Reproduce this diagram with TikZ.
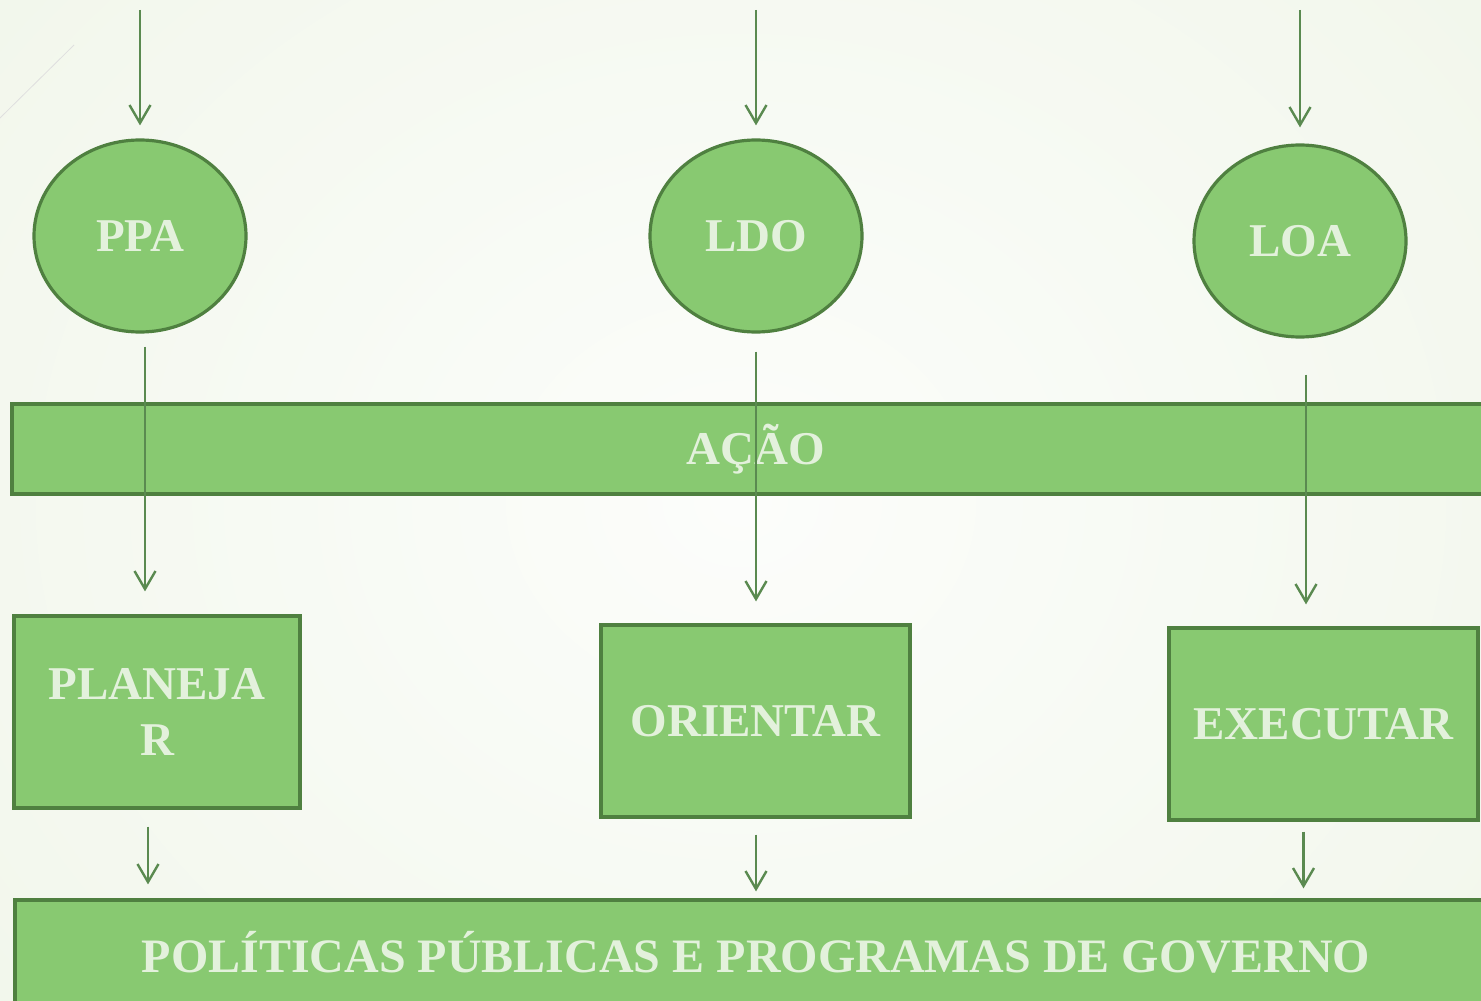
\documentclass[tikz,border=0pt]{standalone}
\usepackage{fontspec}
\setmainfont{Liberation Serif}
\usetikzlibrary{arrows.meta, shapes.geometric}

\definecolor{bgout}{HTML}{F2F7EC}
\definecolor{bgin}{HTML}{FCFDFB}
\definecolor{boxfill}{HTML}{88C971}
\definecolor{boxline}{HTML}{4F8040}
\definecolor{arrline}{HTML}{5A8A50}
\definecolor{boxtext}{HTML}{E3F1DC}

\tikzset{
  lawnode/.style={ellipse, draw=boxline, line width=1.6pt, fill=boxfill,
    minimum width=106pt, minimum height=96pt, inner sep=0pt,
    text=boxtext, font=\fontsize{23.5}{28}\selectfont\bfseries},
  stepbox/.style={rectangle, draw=boxline, line width=1.6pt, fill=boxfill,
    minimum height=96pt, inner sep=0pt, align=center,
    text=boxtext, font=\fontsize{23.5}{28}\selectfont\bfseries},
  bar/.style={stepbox, minimum height=45pt},
  arr/.style={draw=arrline, line width=1.2pt,
    -{Straight Barb[length=9pt, width=10.5pt, line width=1.2pt]}},
}

\begin{document}
\begin{tikzpicture}[x=0.5pt, y=-0.5pt]
      % Background:
      \useasboundingbox (0,0) rectangle (1481,1000);
      \clip (0,0) rectangle (1481,1000);
      \shade[inner color=bgin, outer color=bgout] (-200,-300) rectangle (1681,1300);
      \draw[gray!25, line width=0.4pt] (0,118) -- (74,45);

      % Laws:
      \node[lawnode] (ppa) at (140,236) {PPA};
      \node[lawnode] (ldo) at (756,236) {LDO};
      \node[lawnode] (loa) at (1300,241) {LOA};
      \coordinate (ppain) at (140,10);
      \coordinate (ldoin) at (756,10);
      \coordinate (loain) at (1300,10);

      % Bars and steps:
      \node[bar, minimum width=744pt] (acao) at (756,449) {AÇÃO};
      \node[stepbox, minimum width=143pt] (planejar) at (157,712) {PLANEJA\\R};
      \node[stepbox, minimum width=154.5pt] (orientar) at (755.5,721) {ORIENTAR};
      \node[stepbox, minimum width=154.5pt] (executar) at (1323.5,724) {EXECUTAR};
      \node[bar, minimum width=741pt, minimum height=52pt,
        font=\fontsize{24}{28}\selectfont\bfseries] (politicas) at (756,952) {POLÍTICAS PÚBLICAS E PROGRAMAS DE GOVERNO};

      % Arrows:
      \draw[arr, shorten >=6.5pt] (ppain) -- (ppa.north);
      \draw[arr, shorten >=6.5pt] (ldoin) -- (ldo.north);
      \draw[arr, shorten >=8pt] (loain) -- (loa.north);

      \draw[arr, shorten <=6.5pt, shorten >=11.5pt] ([xshift=2.5pt]ppa.south) -- ([xshift=2.5pt]ppa.south |- planejar.north);
      \draw[arr, shorten <=9pt, shorten >=11pt] (ldo.south) -- (ldo.south |- orientar.north);
      \draw[arr, shorten <=18pt, shorten >=11pt] ([xshift=3pt]loa.south) -- ([xshift=3pt]loa.south |- executar.north);

      \draw[arr, shorten <=8.5pt, shorten >=7pt] ([xshift=-4.5pt]planejar.south) -- ([xshift=-4.5pt]planejar.south |- politicas.north);
      \draw[arr, shorten <=8pt, shorten >=3.5pt] ([xshift=0.25pt]orientar.south) -- ([xshift=0.25pt]orientar.south |- politicas.north);
      \draw[arr, shorten <=5pt, shorten >=5pt] ([xshift=-10pt]executar.south) -- ([xshift=-10pt]executar.south |- politicas.north);
\end{tikzpicture}
\end{document}
